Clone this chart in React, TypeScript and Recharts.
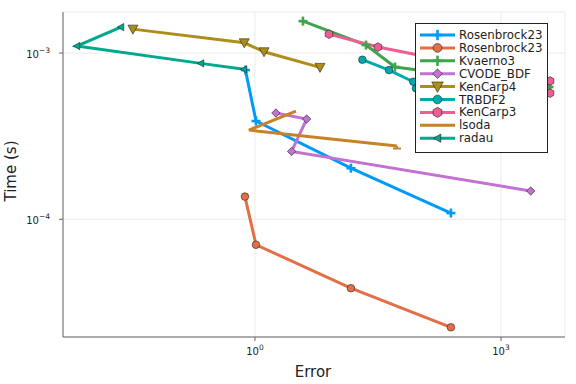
import React from 'react';
import { LineChart, Line, XAxis, YAxis, CartesianGrid } from 'recharts';

// ---- Data (Error, Time) ----
const rosenbrockAErr = [0.766, 1.03, 14.8, 245];
const rosenbrockATime = [7.9e-4, 3.9e-4, 2.03e-4, 1.09e-4];

const rosenbrockBErr = [0.755, 1.03, 14.8, 245];
const rosenbrockBTime = [1.37e-4, 7.03e-5, 3.85e-5, 2.24e-5];

const kvaerno3Err = [3.85, 22.6, 51, 3850];
const kvaerno3Time = [1.556e-3, 1.117e-3, 8.24e-4, 6.25e-4];

const cvodeErr = [1.8, 4.27, 2.8, 2302];
const cvodeTime = [4.36e-4, 4.01e-4, 2.56e-4, 1.48e-4];

const kenCarp4Err = [0.0325, 0.741, 1.29, 6.21];
const kenCarp4Time = [1.393e-3, 1.153e-3, 1.018e-3, 8.2e-4];

const trbdf2Err = [20.4, 43.1, 85.3, 91.9];
const trbdf2Time = [9.12e-4, 7.9e-4, 6.72e-4, 6.14e-4];

const kenCarp3Err = [7.99, 31.6, 3960, 3960];
const kenCarp3Time = [1.3e-3, 1.087e-3, 6.79e-4, 5.74e-4];

const lsodaErr = [3.16, 0.845, 53.9];
const lsodaTime = [4.48e-4, 3.44e-4, 2.76e-4];

const radauErr = [0.0232, 0.00675, 0.219, 0.734];
const radauTime = [1.433e-3, 1.102e-3, 8.67e-4, 7.98e-4];

const xTicks = [1, 1000];
const yTicks = [1e-4, 1e-3];

const zip = (xs: number[], ys: number[]) => xs.map((x, i) => ({ x, y: ys[i] }));

type Marker = 'cross' | 'circle' | 'diamond' | 'dtriangle' | 'hexagon' | 'ltriangle' | 'end' | 'none';

const series: { name: string; color: string; marker: Marker; data: { x: number; y: number }[] }[] = [
  { name: 'Rosenbrock23', color: '#009AFA', marker: 'cross', data: zip(rosenbrockAErr, rosenbrockATime) },
  { name: 'Rosenbrock23', color: '#E36F47', marker: 'circle', data: zip(rosenbrockBErr, rosenbrockBTime) },
  { name: 'Kvaerno3', color: '#3EA44E', marker: 'cross', data: zip(kvaerno3Err, kvaerno3Time) },
  { name: 'CVODE_BDF', color: '#C371D2', marker: 'diamond', data: zip(cvodeErr, cvodeTime) },
  { name: 'KenCarp4', color: '#AC8E18', marker: 'dtriangle', data: zip(kenCarp4Err, kenCarp4Time) },
  { name: 'TRBDF2', color: '#00A9AD', marker: 'circle', data: zip(trbdf2Err, trbdf2Time) },
  { name: 'KenCarp3', color: '#ED5E93', marker: 'hexagon', data: zip(kenCarp3Err, kenCarp3Time) },
  { name: 'lsoda', color: '#C68225', marker: 'end', data: zip(lsodaErr, lsodaTime) },
  { name: 'radau', color: '#00A98D', marker: 'ltriangle', data: zip(radauErr, radauTime) },
];

const OUT = '#222';

function markerShape(m: Marker, cx: number, cy: number, color: string, scale = 1, isLast = false) {
  const s = scale;
  switch (m) {
    case 'cross':
      return (
        <g>
          <line x1={cx - 4.5 * s} y1={cy} x2={cx + 4.5 * s} y2={cy} stroke={color} strokeWidth={2.6} />
          <line x1={cx} y1={cy - 4.5 * s} x2={cx} y2={cy + 4.5 * s} stroke={color} strokeWidth={2.6} />
        </g>
      );
    case 'circle':
      return <circle cx={cx} cy={cy} r={3.8 * s} fill={color} stroke={OUT} strokeWidth={0.6} />;
    case 'diamond': {
      const r = 4.2 * s;
      return (
        <polygon
          points={`${cx},${cy - r} ${cx + r},${cy} ${cx},${cy + r} ${cx - r},${cy}`}
          fill={color}
          stroke={OUT}
          strokeWidth={0.6}
        />
      );
    }
    case 'dtriangle': {
      const r = 5 * s;
      return (
        <polygon
          points={`${cx - r},${cy - r * 0.8} ${cx + r},${cy - r * 0.8} ${cx},${cy + r}`}
          fill={color}
          stroke={OUT}
          strokeWidth={0.6}
        />
      );
    }
    case 'hexagon': {
      const r = 4.4 * s;
      const pts = [0, 1, 2, 3, 4, 5]
        .map((k) => {
          const a = (Math.PI / 3) * k + Math.PI / 6;
          return `${cx + r * Math.cos(a)},${cy + r * Math.sin(a)}`;
        })
        .join(' ');
      return <polygon points={pts} fill={color} stroke={OUT} strokeWidth={0.6} />;
    }
    case 'ltriangle': {
      const r = 3.6 * s;
      return (
        <polygon
          points={`${cx - r},${cy} ${cx + r * 0.8},${cy - r} ${cx + r * 0.8},${cy + r}`}
          fill={color}
          stroke={OUT}
          strokeWidth={0.6}
        />
      );
    }
    case 'end':
      if (!isLast) return <g />;
      return (
        <g>
          <line x1={cx - 4} y1={cy + 2.5} x2={cx + 4} y2={cy + 2.5} stroke={color} strokeWidth={2} />
          <line x1={cx} y1={cy} x2={cx} y2={cy + 2.5} stroke={color} strokeWidth={2} />
        </g>
      );
    default:
      return <g />;
  }
}

const sup = (v: number) => {
  const e = Math.round(Math.log10(v));
  return e < 0 ? '\u2212' + Math.abs(e) : String(e);
};

const FONT = '"DejaVu Sans", sans-serif';

const XTick = (props: any) => {
  const { x, y, payload } = props;
  return (
    <text x={x} y={y + 12} textAnchor="middle" fontFamily={FONT} fontSize={10} fill="#222">
      <tspan>10</tspan>
      <tspan dy={-5} fontSize={7.5}>{sup(payload.value)}</tspan>
    </text>
  );
};

const YTick = (props: any) => {
  const { x, y, payload } = props;
  return (
    <text x={x - 7} y={y + 5} textAnchor="end" fontFamily={FONT} fontSize={10} fill="#222">
      <tspan>10</tspan>
      <tspan dy={-5} fontSize={7.5}>{sup(payload.value)}</tspan>
    </text>
  );
};

export default function App() {
  const legendX = 415;
  const legendY = 23;
  const legendW = 132;
  const legendH = 129;
  const rowY0 = 35;
  const rowStep = 12.9;

  return (
    <div style={{ position: 'absolute', left: 0, top: 0, width: 576, height: 384, background: '#fff' }}>
      <LineChart width={576} height={384} margin={{ top: 12, right: 11, left: 13, bottom: 17 }}>
        <CartesianGrid stroke="#ebebeb" strokeWidth={1} />
        <XAxis
          type="number"
          dataKey="x"
          scale="log"
          domain={[Math.pow(10, -2.34), Math.pow(10, 3.78)]}
          ticks={xTicks}
          allowDataOverflow
          height={30}
          tick={<XTick />}
          tickSize={4}
          stroke="#666"
          tickLine={{ stroke: '#666' }}
        />
        <YAxis
          type="number"
          dataKey="y"
          scale="log"
          domain={[Math.pow(10, -4.708), Math.pow(10, -2.753)]}
          ticks={yTicks}
          allowDataOverflow
          width={50}
          tick={<YTick />}
          tickSize={4}
          stroke="#666"
          tickLine={{ stroke: '#666' }}
        />
        {series.map((s, si) => (
          <Line
            key={si}
            data={s.data}
            dataKey="y"
            type="linear"
            stroke={s.color}
            strokeWidth={3}
            isAnimationActive={false}
            activeDot={false}
            dot={(p: any) => (
              <g key={`d-${si}-${p.index}`}>
                {markerShape(s.marker, p.cx, p.cy, s.color, 1, p.index === s.data.length - 1)}
              </g>
            )}
          />
        ))}
      </LineChart>
      <svg
        width={576}
        height={384}
        style={{ position: 'absolute', left: 0, top: 0, pointerEvents: 'none' }}
      >
        <text x={313} y={377} textAnchor="middle" fontFamily={FONT} fontSize={15} fill="#222">
          Error
        </text>
        <text
          x={16}
          y={171}
          textAnchor="middle"
          fontFamily={FONT}
          fontSize={15}
          fill="#222"
          transform="rotate(-90 16 171)"
        >
          Time (s)
        </text>
        <rect x={legendX + 0.5} y={legendY + 0.5} width={legendW} height={legendH} fill="#fff" stroke="#222" strokeWidth={1} />
        {series.map((s, i) => {
          const cy = rowY0 + i * rowStep;
          return (
            <g key={`lg-${i}`}>
              <line x1={420} y1={cy} x2={455} y2={cy} stroke={s.color} strokeWidth={3} />
              {s.marker !== 'end' && markerShape(s.marker, 437.5, cy, s.color, 1.15, false)}
              <text x={459} y={cy + 4} fontFamily={FONT} fontSize={11.8} fill="#222">
                {s.name}
              </text>
            </g>
          );
        })}
      </svg>
    </div>
  );
}
